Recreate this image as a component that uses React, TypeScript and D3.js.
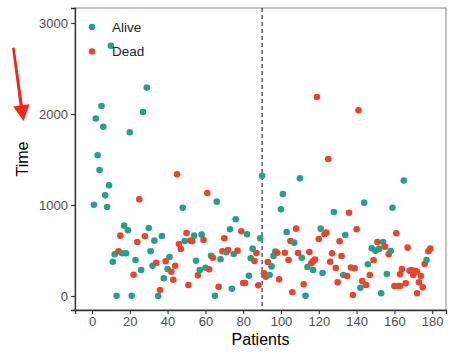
import React, { useEffect, useRef } from 'react';
import * as d3 from 'd3';

// patient index and survival time
const aliveIds = [1, 2, 3, 4, 5, 6, 7, 8, 9, 10, 11, 12, 13, 16, 17, 18, 19, 20, 21, 23, 26, 27, 29, 30, 31, 32, 33, 35, 37, 38, 40, 41, 48, 49, 54, 55, 57, 58, 60, 63, 65, 66, 68, 71, 73, 74, 75, 76, 82, 83, 84, 85, 89, 90, 94, 95, 96, 97, 100, 101, 103, 107, 110, 111, 113, 114, 117, 121, 122, 128, 133, 134, 142, 144, 146, 148, 150, 152, 153, 154, 156, 158, 159, 165, 177];
const aliveTimes = [1003, 1950, 1546, 1385, 2088, 1860, 1106, 978, 1216, 2750, 377, 458, 3, 469, 773, 469, 722, 1800, 3, 396, 286, 2022, 2290, 747, 491, 333, 608, 0, 659, 194, 297, 429, 970, 604, 663, 388, 286, 674, 311, 443, 3, 1037, 403, 480, 733, 80, 461, 843, 678, 223, 414, 520, 634, 1322, 231, 325, 440, 487, 952, 1120, 703, 586, 1293, 421, 3, 319, 286, 740, 253, 923, 231, 670, 91, 1026, 348, 524, 498, 520, 30, 593, 242, 494, 970, 1270, 396];

const deadIds = [14, 15, 22, 24, 25, 28, 34, 36, 39, 42, 43, 44, 45, 46, 47, 50, 51, 52, 53, 56, 59, 61, 62, 64, 67, 69, 70, 72, 77, 79, 80, 81, 86, 87, 88, 91, 92, 93, 98, 99, 102, 104, 105, 106, 108, 109, 112, 115, 116, 117, 118, 119, 120, 123, 124, 125, 126, 127, 129, 130, 131, 132, 135, 136, 137, 138, 139, 140, 141, 143, 145, 147, 149, 151, 155, 157, 160, 161, 162, 163, 163, 164, 166, 167, 168, 169, 170, 171, 172, 172, 173, 174, 175, 176, 178, 179];
const deadTimes = [491, 663, 234, 593, 1062, 656, 366, 66, 381, 267, 179, 333, 1337, 571, 516, 692, 121, 608, 601, 227, 615, 1132, 293, 421, 102, 491, 634, 505, 498, 711, 143, 143, 385, 472, 117, 249, 212, 374, 476, 183, 476, 396, 604, 41, 740, 472, 128, 483, 359, 383, 400, 2187, 626, 678, 696, 1505, 377, 469, 308, 150, 601, 440, 220, 915, 313, 11, 305, 733, 2040, 165, 121, 231, 392, 593, 542, 458, 110, 689, 110, 110, 238, 297, 139, 531, 278, 286, 230, 278, 267, 30, 150, 220, 95, 352, 491, 520];

const xTicks = [0, 20, 40, 60, 80, 100, 120, 140, 160, 180];
const yTicks = [0, 1000, 2000, 3000];
const cutoff = 90;

const groups = ['Alive', 'Dead'];
const colors = ['#26a086', '#e8452f'];

const App = () => {
  const svgRef = useRef<SVGSVGElement>(null);

  useEffect(() => {
    const svg = d3.select(svgRef.current);
    svg.selectAll('*').remove();

    const left = 75, right = 446, top = 8, bottom = 310;
    const font = '"Liberation Sans", Arial, sans-serif';

    const x = d3.scaleLinear().domain([-9, 187.3]).range([left, right]);
    const y = d3.scaleLinear().domain([-154, 3165]).range([bottom, top]);
    const color = d3.scaleOrdinal<string, string>().domain(groups).range(colors);

    // panel border
    svg.append('rect')
      .attr('x', left).attr('y', top)
      .attr('width', right - left).attr('height', bottom - top)
      .attr('fill', 'white')
      .attr('stroke', '#9a9a9a')
      .attr('stroke-width', 1.2);

    // axes
    const xAxis = d3.axisBottom(x).tickValues(xTicks).tickSize(4).tickPadding(3);
    const yAxis = d3.axisLeft(y).tickValues(yTicks).tickSize(4).tickPadding(3)
      .tickFormat(d3.format('d'));

    const gx = svg.append('g').attr('transform', `translate(0,${bottom})`).call(xAxis);
    const gy = svg.append('g').attr('transform', `translate(${left},0)`).call(yAxis);
    [gx, gy].forEach(g => {
      g.select('.domain').attr('stroke', '#333').attr('stroke-width', 1.3);
      g.selectAll('.tick line').attr('stroke', '#333').attr('stroke-width', 1.1);
      g.selectAll('.tick text')
        .attr('fill', '#4d4d4d')
        .style('font-family', font)
        .style('font-size', '13px');
    });

    // cutoff
    svg.append('line')
      .attr('x1', x(cutoff)).attr('x2', x(cutoff))
      .attr('y1', top).attr('y2', bottom)
      .attr('stroke', '#333')
      .attr('stroke-width', 1.2)
      .attr('stroke-dasharray', '4,3');

    const points = [
      ...aliveIds.map((p, i) => ({ p, t: aliveTimes[i], g: 'Alive' })),
      ...deadIds.map((p, i) => ({ p, t: deadTimes[i], g: 'Dead' })),
    ].sort((a, b) => a.p - b.p);

    svg.append('g')
      .selectAll('circle')
      .data(points)
      .enter()
      .append('circle')
      .attr('cx', d => x(d.p))
      .attr('cy', d => y(d.t))
      .attr('r', 3.3)
      .attr('fill', d => color(d.g));

    // legend
    const legend = svg.append('g');
    groups.forEach((g, i) => {
      legend.append('circle')
        .attr('cx', 92).attr('cy', 27 + i * 24.5)
        .attr('r', 3.3)
        .attr('fill', color(g));
      legend.append('text')
        .attr('x', 112).attr('y', 31.5 + i * 24.5)
        .attr('fill', '#222')
        .style('font-family', font)
        .style('font-size', '13.5px')
        .text(g);
    });

    // titles
    svg.append('text')
      .attr('x', (left + right) / 2).attr('y', 345)
      .attr('text-anchor', 'middle')
      .style('font-family', font)
      .style('font-size', '16px')
      .text('Patients');
    svg.append('text')
      .attr('transform', `translate(28,${(top + bottom) / 2}) rotate(-90)`)
      .attr('text-anchor', 'middle')
      .style('font-family', font)
      .style('font-size', '16px')
      .text('Time');

    // red arrow annotation
    svg.append('polygon')
      .attr('points', '12,48 14.6,47.6 22.8,105 29.5,104.2 23.6,121 13.2,106.8 19.6,105.6')
      .attr('fill', '#f2261a');
  }, []);

  return (
    <svg
      ref={svgRef}
      width={449}
      height={352}
      style={{ position: 'absolute', left: 0, top: 0, background: 'white' }}
    />
  );
};

export default App;
